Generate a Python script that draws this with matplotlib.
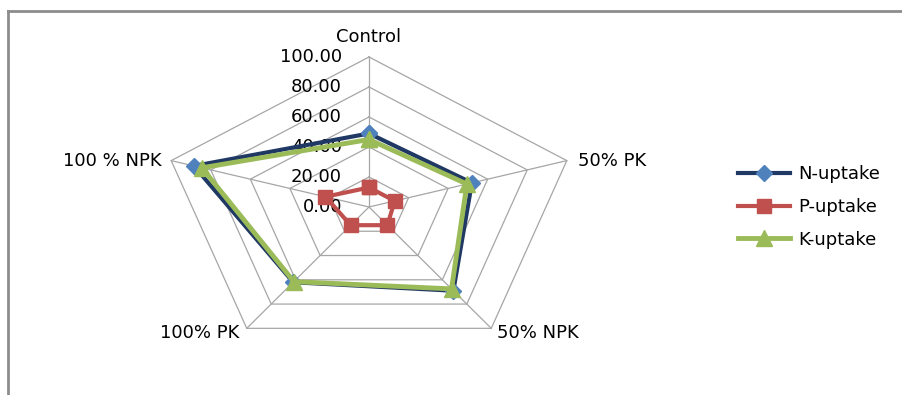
import numpy as np
import matplotlib.pyplot as plt
from matplotlib.lines import Line2D

categories = ["Control", "50% PK", "50% NPK", "100% PK", "100 % NPK"]
n_uptake = [49.0, 52.0, 69.0, 62.0, 88.5]
p_uptake = [13.0, 13.0, 15.0, 15.0, 22.0]
k_uptake = [45.0, 49.5, 67.5, 61.5, 84.5]
ring_values = [0, 20, 40, 60, 80, 100]
ring_labels = [f"{v:.2f}" for v in ring_values]

plt.rcParams["font.family"] = "DejaVu Sans"

angles = np.linspace(0, 2 * np.pi, len(categories), endpoint=False)


def to_xy(values):
    # radar coordinates, clockwise from the top
    v = np.asarray(values, dtype=float)
    x = v * np.sin(angles)
    y = v * np.cos(angles)
    return np.append(x, x[0]), np.append(y, y[0])


fig = plt.figure(figsize=(9.02, 3.95), dpi=100)
# the chart area is wider than tall, so the pentagon is stretched sideways
ax = fig.add_axes([0.1324, 0.0013, 0.5534, 0.9494])
ax.set_xlim(-120, 120)
ax.set_ylim(-125, 125)
ax.axis("off")

grid_color = "#A6A6A6"
for r in ring_values[1:]:
    gx, gy = to_xy([r] * len(categories))
    ax.plot(gx, gy, color=grid_color, lw=0.9, zorder=1)
sx, sy = to_xy([ring_values[-1]] * len(categories))
for x, y in zip(sx[:-1], sy[:-1]):
    ax.plot([0, x], [0, y], color=grid_color, lw=0.9, zorder=1)

for r, lab in zip(ring_values, ring_labels):
    ax.text(-13, r, lab, ha="right", va="center", fontsize=13, color="#000000")

# category labels next to the outer vertices
label_offsets = [(0, 8), (8, 0), (4, -3), (-5, -3), (-7, 0)]
label_align = [("center", "bottom"), ("left", "center"), ("left", "center"),
               ("right", "center"), ("right", "center")]
for cat, x, y, off, (ha, va) in zip(categories, sx[:-1], sy[:-1], label_offsets, label_align):
    ax.annotate(cat, (x, y), xytext=off, textcoords="offset points",
                ha=ha, va=va, fontsize=13, color="#000000")

nx, ny = to_xy(n_uptake)
ax.plot(nx, ny, color="#1F3864", lw=3, marker="D", ms=8,
        mfc="#4F81BD", mec="#4F81BD", label="N-uptake", zorder=3)
px, py = to_xy(p_uptake)
ax.plot(px, py, color="#C0504D", lw=3, marker="s", ms=10,
        mfc="#C0504D", mec="#C0504D", label="P-uptake", zorder=4)
kx, ky = to_xy(k_uptake)
ax.plot(kx, ky, color="#9BBB59", lw=3.5, marker="^", ms=11,
        mfc="#9BBB59", mec="#9BBB59", label="K-uptake", zorder=5)

fig.legend(loc="center left", bbox_to_anchor=(738 / 902, 1 - 207 / 395),
           bbox_transform=fig.transFigure, frameon=False, fontsize=13,
           handlelength=2.9, handletextpad=0.45, labelspacing=0.82,
           borderpad=0, borderaxespad=0)

# chart border (only top and left edges show)
fig.add_artist(Line2D([8 / 902, 8 / 902], [0, 1 - 11 / 395],
                      transform=fig.transFigure, color="#8C8C8C", lw=2))
fig.add_artist(Line2D([8 / 902, 1], [1 - 11 / 395, 1 - 11 / 395],
                      transform=fig.transFigure, color="#8C8C8C", lw=2))

plt.savefig("out.png", dpi=100)
plt.close()
